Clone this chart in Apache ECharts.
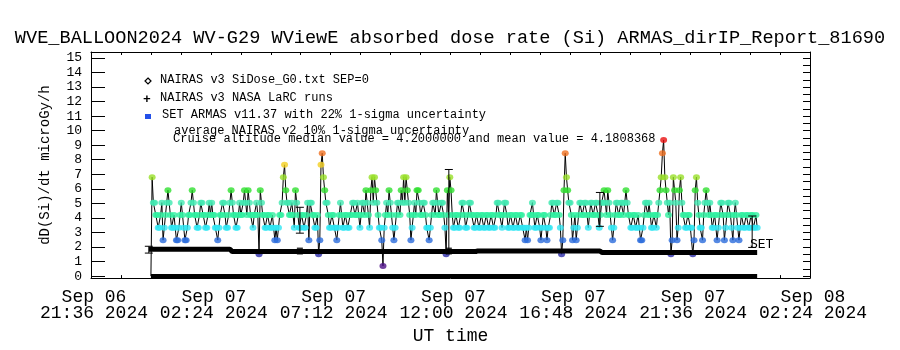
<!DOCTYPE html>
<html>
<head>
<meta charset="utf-8">
<script src="https://cdn.jsdelivr.net/npm/echarts@6/dist/echarts.min.js"></script>
<style>
  html, body { margin: 0; padding: 0; background: #fff; }
  #chart { width: 900px; height: 350px; }
</style>
</head>
<body>
<div id="chart"></div>
<script>
// x values are minutes after Sep 06 21:36 UT
const xTickLabels = ['Sep 06\n21:36 2024', 'Sep 07\n02:24 2024', 'Sep 07\n07:12 2024', 'Sep 07\n12:00 2024',
  'Sep 07\n16:48 2024', 'Sep 07\n21:36 2024', 'Sep 08\n02:24 2024'];
const yTicks = [0, 1, 2, 3, 4, 5, 6, 7, 8, 9, 10, 11, 12, 13, 14, 15];
const yHalfTicks = [0, 0.5, 1, 1.5, 2, 2.5, 3, 3.5, 4, 4.5, 5, 5.5, 6, 6.5, 7, 7.5, 8, 8.5, 9, 9.5,
  10, 10.5, 11, 11.5, 12, 12.5, 13, 13.5, 14, 14.5, 15];

// ARMAS record: starts 00:00 Sep 07, one sample every ~2.92 min
const armasStart = 144;
const armasStep = 2.92;
const armasDose = [
  0, 6.8, 5.05, 5.05, 4.2, 4.2, 3.33, 3.33, 4.2, 5.05,
  2.47, 3.33, 4.2, 5.05, 5.9, 5.05, 4.2, 3.33, 3.33, 4.2,
  3.33, 2.47, 2.47, 3.33, 4.2, 5.05, 4.2, 3.33, 2.47, 2.47,
  3.33, 4.2, 4.2, 5.05, 5.9, 5.05, 4.2, 4.2, 3.33, 3.33,
  4.2, 5.05, 5.05, 4.2, 4.2, 3.33, 3.33, 4.2, 5.05, 4.2,
  5.05, 4.2, 4.2, 3.33, 3.33, 2.47, 3.33, 4.2, 4.2, 5.05,
  5.05, 4.2, 3.33, 3.33, 4.2, 5.05, 5.9, 5.05, 4.2, 4.2,
  3.33, 3.33, 4.2, 5.05, 4.2, 4.2, 5.05, 5.9, 5.05, 4.2,
  5.9, 5.05, 4.2, 4.2, 3.33, 4.2, 4.2, 5.05, 4.2, 1.5,
  5.9, 5.05, 4.2, 4.2, 3.33, 3.33, 4.2, 4.2, 3.33, 3.33,
  4.2, 3.33, 2.47, 3.33, 2.47, 3.33, 4.2, 4.2, 5.05, 6.8,
  7.65, 5.9, 5.05, 5.05, 4.2, 4.2, 5.05, 4.2, 3.33, 5.9,
  5.05, 4.2, 3.33, 3.33, 4.2, 4.2, 3.33, 3.33, 4.2, 5.05,
  2.47, 5.05, 5.05, 4.2, 4.2, 3.33, 3.33, 4.2, 1.5, 2.47,
  7.65, 8.45, 6.8, 5.9, 5.05, 5.05, 4.2, 3.33, 3.33, 4.2,
  4.2, 3.33, 3.33, 2.47, 3.33, 4.2, 5.05, 4.2, 3.33, 3.33,
  4.2, 4.2, 3.33, 3.33, 4.2, 4.2, 5.05, 5.05, 4.2, 4.2,
  5.05, 4.2, 3.33, 4.2, 5.05, 5.05, 4.2, 5.9, 5.05, 4.2,
  3.33, 5.9, 6.8, 5.05, 6.8, 5.9, 5.05, 4.2, 3.33, 3.33,
  2.47, 0.7, 3.33, 4.2, 5.05, 4.2, 5.9, 5.05, 4.2, 3.33,
  2.47, 3.33, 4.2, 5.05, 5.05, 4.2, 5.9, 5.05, 6.8, 5.05,
  6.8, 5.9, 5.05, 4.2, 2.47, 3.33, 4.2, 5.05, 4.2, 5.9,
  5.9, 5.05, 4.2, 4.2, 5.05, 5.05, 4.2, 3.33, 3.33, 2.47,
  3.33, 4.2, 5.05, 5.05, 4.2, 5.9, 5.05, 4.2, 4.2, 5.05,
  5.05, 4.2, 3.33, 1.5, 5.9, 4.2, 6.8, 5.9, 4.2, 3.33,
  3.33, 4.2, 4.2, 3.33, 3.33, 4.2, 5.05, 5.05, 4.2, 3.33,
  3.33, 4.2, 5.05, 5.05, 4.2, 4.2, 3.33, 3.33, 4.2, 4.2,
  3.33, 3.33, 4.2, 4.2, 3.33, 3.33, 4.2, 4.2, 3.33, 3.33,
  4.2, 4.2, 3.33, 3.33, 4.2, 5.05, 5.05, 4.2, 4.2, 3.33,
  4.2, 5.05, 5.05, 4.2, 3.33, 3.33, 4.2, 4.2, 3.33, 3.33,
  4.2, 4.2, 3.33, 3.33, 4.2, 4.2, 3.33, 3.33, 2.47, 3.33,
  2.47, 3.33, 4.2, 4.2, 5.05, 4.2, 3.33, 3.33, 4.2, 4.2,
  3.33, 2.47, 3.33, 4.2, 4.2, 3.33, 2.47, 3.33, 3.33, 4.2,
  5.05, 5.05, 4.2, 4.2, 5.05, 5.05, 4.2, 3.33, 1.5, 2.47,
  5.9, 8.45, 6.8, 5.9, 5.05, 5.05, 4.2, 2.47, 3.33, 4.2,
  2.47, 3.33, 4.2, 5.05, 5.05, 4.2, 4.2, 5.05, 5.05, 4.2,
  3.33, 4.2, 5.05, 5.05, 4.2, 4.2, 5.05, 5.05, 4.2, 3.33,
  4.2, 5.05, 5.05, 5.9, 5.05, 4.2, 5.9, 5.05, 4.2, 3.33,
  2.47, 3.33, 4.2, 5.05, 5.05, 4.2, 4.2, 5.05, 5.05, 4.2,
  5.05, 5.9, 5.05, 4.2, 4.2, 3.33, 3.33, 4.2, 4.2, 3.33,
  3.33, 4.2, 3.33, 2.47, 2.47, 3.33, 4.2, 5.05, 5.05, 4.2,
  5.05, 4.2, 3.33, 3.33, 4.2, 4.2, 3.33, 4.2, 5.05, 5.9,
  6.8, 8.45, 9.35, 6.8, 5.9, 5.05, 4.2, 5.05, 1.5, 2.47,
  6.8, 5.9, 5.05, 2.47, 3.33, 5.9, 6.8, 5.05, 4.2, 4.2,
  3.33, 3.33, 4.2, 4.2, 3.33, 3.33, 1.5, 2.47, 5.9, 6.8,
  5.05, 4.2, 3.33, 3.33, 2.47, 4.2, 5.05, 5.9, 5.05, 4.2,
  5.05, 4.2, 3.33, 3.33, 4.2, 4.2, 2.47, 3.33, 4.2, 5.05,
  5.05, 4.2, 2.47, 3.33, 4.2, 5.05, 5.05, 4.2, 3.33, 2.47,
  4.2, 5.05, 4.2, 3.33, 2.47, 3.33, 4.2, 4.2, 3.33, 3.33,
  4.2, 4.2, 3.33, 3.33, 4.2, 4.2, 3.33, 3.33, 4.2, 3.33
];

// NAIRAS v3 SiDose (thick black trace)
const nairasTime = [139, 334, 339, 925, 930, 1223, 1228, 1601];
const nairasDose = [1.85, 1.85, 1.69, 1.69, 1.73, 1.73, 1.62, 1.62];

// NAIRAS LaRC runs (flat at zero)
const larcTime = [144, 1601];
const larcDose = [0, 0];

// uncertainty bars
const errTime = [139, 502, 860, 1223, 1589];
const errLow = [1.58, 2.95, 1.71, 3.42, 1.97];
const errHigh = [2.05, 4.73, 7.33, 5.75, 4.13];

// square markers on the NAIRAS trace
const markTime = [502, 860];
const markDose = [1.72, 1.72];

const FONT = 'Liberation Mono';

function doseColor(v) {
  if (v < 1.1) return '#4c0f86';
  if (v < 2.0) return '#2a2aa6';
  if (v < 2.9) return '#2b6cdc';
  if (v < 3.8) return '#30e6f2';
  if (v < 4.6) return '#30f0a0';
  if (v < 5.5) return '#40e8b0';
  if (v < 6.3) return '#30e030';
  if (v < 7.2) return '#98e028';
  if (v < 8.0) return '#f4d020';
  if (v < 8.9) return '#f07020';
  return '#e81010';
}

const armasPts = armasDose.map((v, i) => [armasStart + i * armasStep, v]);
const armasDots = armasPts.filter(p => p[1] > 0);
const nairasPts = nairasTime.map((t, i) => [t, nairasDose[i]]);
const larcPts = larcTime.map((t, i) => [t, larcDose[i]]);
const errPts = errTime.map((t, i) => [t, errLow[i], errHigh[i]]);
const markPts = markTime.map((t, i) => [t, markDose[i]]);

const chart = echarts.init(document.getElementById('chart'));

const legendLines = [
  ['NAIRAS v3 SiDose_G0.txt SEP=0', 160, 81],
  ['NAIRAS v3 NASA LaRC runs', 160, 99],
  ['SET ARMAS v11.37 with 22% 1-sigma uncertainty', 162, 116],
  ['average NAIRAS v2 10% 1-sigma uncertainty', 174, 132],
  ['Cruise altitude median value = 4.2000000 and mean value = 4.1808368', 173, 140]
];

const graphics = legendLines.map(l => ({
  type: 'text', left: l[1], top: l[2] - 7, zlevel: 2, z: 10,
  style: { text: l[0], font: '12px "' + FONT + '"', fill: '#000' }
}));
graphics.push(
  { type: 'polygon', zlevel: 2, z: 10, shape: { points: [[148, 78], [151, 81], [148, 84], [145, 81]] },
    style: { fill: '#fff', stroke: '#000', lineWidth: 1.2 } },
  { type: 'text', left: 143, top: 93, zlevel: 2, z: 10, style: { text: '+', font: 'bold 13px "' + FONT + '"', fill: '#000' } },
  { type: 'rect', zlevel: 2, z: 10, shape: { x: 145, y: 114, width: 6, height: 5 }, style: { fill: '#2450e8' } },
  { type: 'text', left: 750, top: 238, zlevel: 2, z: 10, style: { text: 'SET', font: '13px "' + FONT + '"', fill: '#000' } }
);

const axisBlack = { lineStyle: { color: '#000', width: 1 } };

chart.setOption({
  animation: false,
  backgroundColor: '#fff',
  title: {
    text: 'WVE_BALLOON2024 WV-G29 WViewE absorbed dose rate (Si) ARMAS_dirIP_Report_81690',
    left: 'center', top: 24,
    textStyle: { fontFamily: FONT, fontSize: 18.6, fontWeight: 'normal', color: '#000' }
  },
  grid: { left: 91, right: 90, top: 52, bottom: 71 },
  xAxis: [
    {
      type: 'value', min: 0, max: 1728, interval: 288, position: 'bottom',
      axisLine: { onZero: false, ...axisBlack },
      axisTick: { inside: true, length: 4, ...axisBlack },
      minorTick: { show: true, splitNumber: 4, length: 3, ...axisBlack },
      splitLine: { show: false },
      axisLabel: {
        formatter: v => xTickLabels[Math.round(v / 288)],
        fontFamily: FONT, fontSize: 18, lineHeight: 16, color: '#000', margin: 11,
        padding: [0, 0, 0, 6],
        showMinLabel: true, showMaxLabel: true
      },
      name: 'UT time', nameLocation: 'middle', nameGap: 44,
      nameTextStyle: { fontFamily: FONT, fontSize: 18, color: '#000' }
    },
    {
      type: 'value', min: 0, max: 1728, interval: 288, position: 'top',
      axisLine: { onZero: false, ...axisBlack },
      axisTick: { inside: true, length: 3, ...axisBlack },
      minorTick: { show: true, splitNumber: 4, length: 3, ...axisBlack },
      splitLine: { show: false },
      axisLabel: { show: false }
    }
  ],
  yAxis: [
    {
      type: 'value', min: -0.14, max: 15.41, position: 'left',
      axisLine: { onZero: false, ...axisBlack },
      axisTick: { inside: true, length: 14, customValues: yTicks, ...axisBlack },
      splitLine: { show: false },
      axisLabel: { customValues: yTicks, fontFamily: FONT, fontSize: 13, color: '#000', margin: 9 },
      name: 'dD(Si)/dt microGy/h', nameLocation: 'middle', nameGap: 39, nameRotate: 90,
      nameTextStyle: { fontFamily: FONT, fontSize: 14, color: '#000' }
    },
    {
      type: 'value', min: -0.14, max: 15.41, position: 'right',
      axisLine: { onZero: false, ...axisBlack },
      axisTick: { inside: true, length: 7, customValues: yHalfTicks, ...axisBlack },
      splitLine: { show: false },
      axisLabel: { show: false }
    }
  ],
  series: [
    {
      name: 'ARMAS trace', type: 'line', data: armasPts, showSymbol: false, zlevel: 0, z: 2,
      lineStyle: { color: '#000', width: 1 }
    },
    {
      name: 'ARMAS', type: 'scatter', data: armasDots, symbol: 'circle', symbolSize: [7, 6], zlevel: 1,
      itemStyle: { color: p => doseColor(p.value[1]) }
    },
    {
      name: 'uncertainty', type: 'custom', data: errPts, zlevel: 2,
      renderItem: (params, api) => {
        const lo = api.coord([api.value(0), api.value(1)]);
        const hi = api.coord([api.value(0), api.value(2)]);
        const st = { stroke: '#000', lineWidth: 1 };
        return {
          type: 'group', children: [
            { type: 'line', shape: { x1: lo[0], y1: lo[1], x2: hi[0], y2: hi[1] }, style: st },
            { type: 'line', shape: { x1: lo[0] - 4, y1: lo[1], x2: lo[0] + 4, y2: lo[1] }, style: st },
            { type: 'line', shape: { x1: hi[0] - 4, y1: hi[1], x2: hi[0] + 4, y2: hi[1] }, style: st }
          ]
        };
      }
    },
    {
      name: 'NAIRAS v3 SiDose', type: 'line', data: nairasPts, showSymbol: false, zlevel: 2,
      lineStyle: { color: '#000', width: 5 }
    },
    {
      name: 'NAIRAS LaRC', type: 'line', data: larcPts, showSymbol: false, zlevel: 2,
      lineStyle: { color: '#000', width: 4 }
    },
    {
      name: 'marks', type: 'scatter', data: markPts, symbol: 'rect', symbolSize: [6, 7], zlevel: 2,
      itemStyle: { color: '#000' }
    }
  ],
  graphic: graphics
});
</script>
</body>
</html>
